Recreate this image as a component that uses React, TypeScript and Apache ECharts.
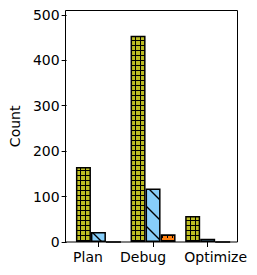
import React, { useEffect, useRef } from "react";
import * as echarts from "echarts";

const categories = ["Plan", "Debug", "Optimize"];
const seriesA = [165, 454, 57];
const seriesB = [22, 118, 7];
const seriesC = [0, 17, 0];
const yTicks = [0, 100, 200, 300, 400, 500];

function tile(size: number, bg: string, draw: (ctx: CanvasRenderingContext2D) => void) {
  const c = document.createElement("canvas");
  c.width = size;
  c.height = size;
  const ctx = c.getContext("2d")!;
  ctx.fillStyle = bg;
  ctx.fillRect(0, 0, size, size);
  ctx.strokeStyle = "#000";
  ctx.fillStyle = "#000";
  draw(ctx);
  return c;
}

export default function App() {
  const ref = useRef<HTMLDivElement>(null);
  useEffect(() => {
    if (!ref.current) return;
    const chart = echarts.init(ref.current, null, { renderer: "svg" });
    const gridTile = tile(5, "#bcbd22", (ctx) => {
      ctx.fillStyle = "#000";
      ctx.fillRect(0, 0, 1, 5);
      ctx.fillRect(0, 0, 5, 1);
    });
    const diagTile = tile(20, "#87cefa", (ctx) => {
      ctx.lineWidth = 1.4;
      ctx.beginPath();
      ctx.moveTo(-2, -2);
      ctx.lineTo(22, 22);
      ctx.moveTo(-2, 18);
      ctx.lineTo(2, 22);
      ctx.moveTo(18, -2);
      ctx.lineTo(22, 2);
      ctx.stroke();
    });
    const starTile = tile(5, "#ff7f0e", (ctx) => {
      ctx.fillRect(0, 0, 5, 1);
      ctx.fillRect(2, 0, 1, 3);
    });
    const mk = (name: string, data: number[], img: HTMLCanvasElement) => ({
      name,
      type: "bar",
      data,
      barWidth: 15,
      barGap: "0%",
      itemStyle: {
        color: { image: img, repeat: "repeat" },
        borderColor: "#000",
        borderWidth: 1.5,
      },
    });
    const labelStyle = { color: "#000", fontSize: 14, fontFamily: "DejaVu Sans" };
    chart.setOption({
      animation: false,
      textStyle: { fontFamily: "DejaVu Sans" },
      grid: { left: 70, right: 22, top: 10.7, bottom: 33, containLabel: false },
      xAxis: {
        type: "category",
        data: categories,
        axisLine: { show: false },
        axisTick: { show: true, alignWithLabel: true, interval: 0, length: 5, lineStyle: { color: "#000", width: 1 } },
        axisLabel: {
          ...labelStyle,
          margin: 8,
          interval: 0,
          formatter: (v: string, i: number) => `{l${i}|${v}}`,
          rich: {
            l0: { ...labelStyle, padding: [0, 21, 0, 0] },
            l1: { ...labelStyle, padding: [0, 20, 0, 0] },
            l2: { ...labelStyle, padding: [0, 0, 0, 16] },
          },
        },
      },
      yAxis: {
        type: "value",
        min: 0,
        max: 509,
        offset: 4.5,
        name: "Count",
        nameLocation: "middle",
        nameGap: 43.5,
        nameTextStyle: labelStyle,
        splitLine: { show: false },
        axisLine: { show: false },
        axisTick: { show: true, length: 5, customValues: yTicks, lineStyle: { color: "#000", width: 1 } },
        axisLabel: { ...labelStyle, margin: 7, customValues: yTicks },
      },
      graphic: [
        {
          type: "rect",
          shape: { x: 65.5, y: 10.5, width: 172, height: 231.5 },
          style: { fill: "none", stroke: "#000", lineWidth: 1 },
          z: 10,
        },
      ],
      series: [mk("A", seriesA, gridTile), mk("B", seriesB, diagTile), mk("C", seriesC, starTile)],
    });
    return () => chart.dispose();
  }, []);
  return <div ref={ref} style={{ width: 257, height: 275, margin: -8 }} />;
}
